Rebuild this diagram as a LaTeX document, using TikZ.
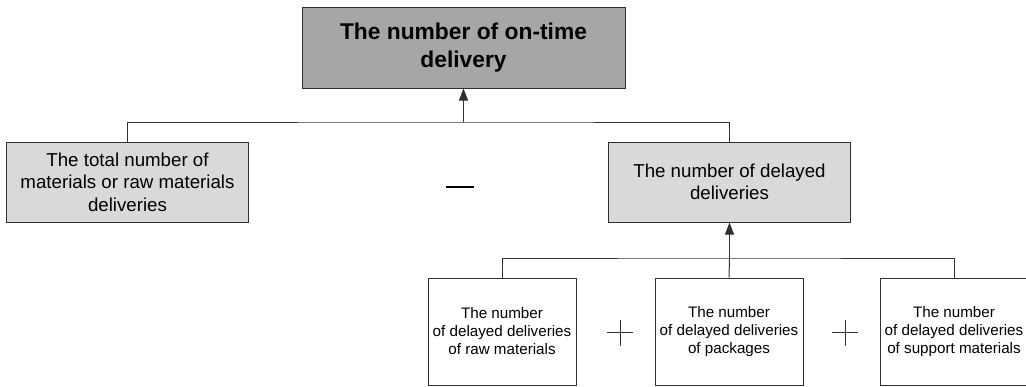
\documentclass[tikz,border=0pt]{standalone}
\usepackage{fontspec}
\setmainfont{Liberation Sans}
\usetikzlibrary{arrows.meta}
\definecolor{darkbox}{HTML}{A6A6A6}
\definecolor{lightbox}{HTML}{D9D9D9}
\definecolor{edge}{HTML}{303030}
\tikzset{
  topbox/.style={draw=edge, line width=1pt, fill=darkbox, minimum width=323pt, minimum height=81pt, inner sep=0pt, align=center, font=\fontsize{22.8}{28}\selectfont\bfseries},
  midbox/.style={draw=edge, line width=1pt, fill=lightbox, minimum width=242pt, minimum height=80pt, inner sep=0pt, align=center, font=\fontsize{18.7}{22.5}\selectfont},
  lowbox/.style={draw=edge, line width=1pt, fill=white, minimum width=148pt, minimum height=107pt, inner sep=0pt, align=center, font=\fontsize{15.2}{18}\selectfont},
  conn/.style={draw=edge, line width=1pt},
  arr/.style={conn, -{Triangle[width=9pt,length=12pt]}},
  opsign/.style={draw=black, line width=1.3pt}
}
\begin{document}
\begin{tikzpicture}[x=1pt,y=-1pt]
\useasboundingbox (0,0) rectangle (1026,386);
\node[topbox] (top) at (463.5,47.5) {The number of on-time\\delivery};
\node[midbox] (left) at (127.5,182) {The total number of\\materials or raw materials\\deliveries};
\node[midbox] (right) at (729.5,182) {The number of delayed\\deliveries};
\node[lowbox] (b1) at (502,331.5) {The number\\of delayed deliveries\\of raw materials};
\node[lowbox] (b2) at (729,331.5) {The number\\of delayed deliveries\\of packages};
\node[lowbox] (b3) at (954,331.5) {The number\\of delayed deliveries\\of support materials};
\coordinate (j1) at (463.5,122);
\coordinate (j2) at (729.5,258);
\draw[conn] (left.north) |- (j1) -| (right.north);
\draw[arr] (j1) -- (top.south);
\draw[conn] (b1.north) |- (j2) -| (b3.north);
\draw[conn] (b2.north) -- (j2);
\draw[arr] (j2) -- (right.south);
\coordinate (m) at (460,187);
\draw[opsign] (m) ++(-14,0) -- ++(28,0);
\coordinate (p1) at (620,332.5);
\coordinate (p2) at (845,332.5);
\draw[conn] (p1) ++(-13,0) -- ++(26,0) (p1) ++(0,-13) -- ++(0,26);
\draw[conn] (p2) ++(-13,0) -- ++(26,0) (p2) ++(0,-13) -- ++(0,26);
\end{tikzpicture}
\end{document}
